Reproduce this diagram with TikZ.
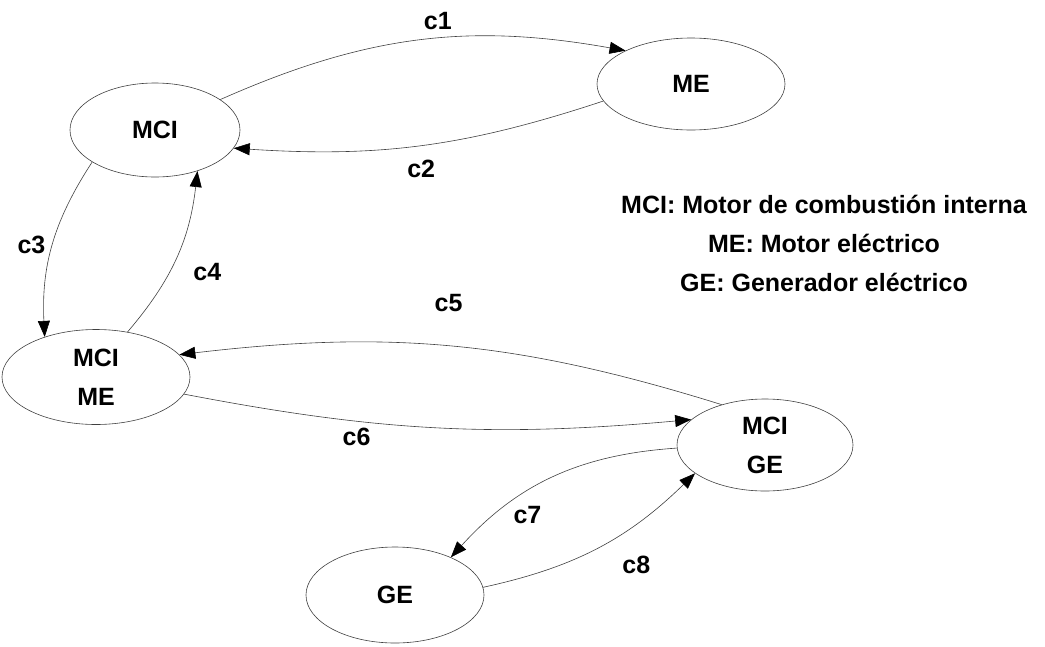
\documentclass[tikz,border=0pt]{standalone}
\usepackage{fontspec}
\setmainfont{Liberation Sans}
\usetikzlibrary{shapes.geometric, arrows.meta}

\begin{document}
\begin{tikzpicture}[x=1pt, y=-1pt]
	\tikzstyle{state}=[draw=black!75, line width=0.6pt, ellipse, minimum width=176pt, minimum height=94pt, inner sep=0pt, align=center, font=\bfseries\fontsize{25}{39}\selectfont]
	\tikzstyle{trans}=[draw=black!75, line width=0.6pt, -{Triangle[length=16pt, width=12pt, color=black]}]
	\tikzstyle{lbl}=[font=\bfseries\fontsize{25}{39}\selectfont, inner sep=2pt]
	\useasboundingbox (0,0) rectangle (1045,646);
	%states
	\node[state, minimum width=170pt] (mci) at (155,130) {MCI};
	\node[state, minimum width=188pt, minimum height=92pt] (me) at (691,84) {ME};
	\node[state, minimum width=188pt, minimum height=95pt] (mcime) at (96,377) {MCI\\ME};
	\node[state, minimum width=176pt, minimum height=92pt] (mcige) at (765,445) {MCI\\GE};
	\node[state, minimum width=178pt, minimum height=96pt] (ge) at (395,595) {GE};
	%legend
	\node[lbl, align=center] (legend) at (824,243) {MCI: Motor de combustión interna\\ME: Motor eléctrico\\GE: Generador eléctrico};
	%MCI <-> ME
	\draw[trans] (mci.25) to[bend left=17] node[lbl, pos=0.55, above=6pt] {c1} (me.153);
	\draw[trans] (me.191) to[bend left=11] node[lbl, pos=0.5, below=12pt] {c2} (mci.347);
	%MCI <-> MCI/ME
	\draw[trans] (mci.207) to[bend right=18] node[lbl, pos=0.5, left=5pt] {c3} (mcime.142);
	\draw[trans] (mcime.55) to[bend right=17] node[lbl, pos=0.4, right=22pt] {c4} (mci.316);
	%MCI/ME <-> MCI/GE
	\draw[trans] (mcige.137) to[bend right=12] node[lbl, pos=0.51, above=32pt] {c5} (mcime.15);
	\draw[trans] (mcime.349) to[bend right=8] node[lbl, pos=0.33, below=5pt] {c6} (mcige.161);
	%MCI/GE <-> GE
	\draw[trans] (mcige.182) to[bend right=22] node[lbl, pos=0.7, below right=1pt] {c7} (ge.34);
	\draw[trans] (ge.5) to[bend right=16] node[lbl, pos=0.55, below right=12pt] {c8} (mcige.202);
\end{tikzpicture}
\end{document}
